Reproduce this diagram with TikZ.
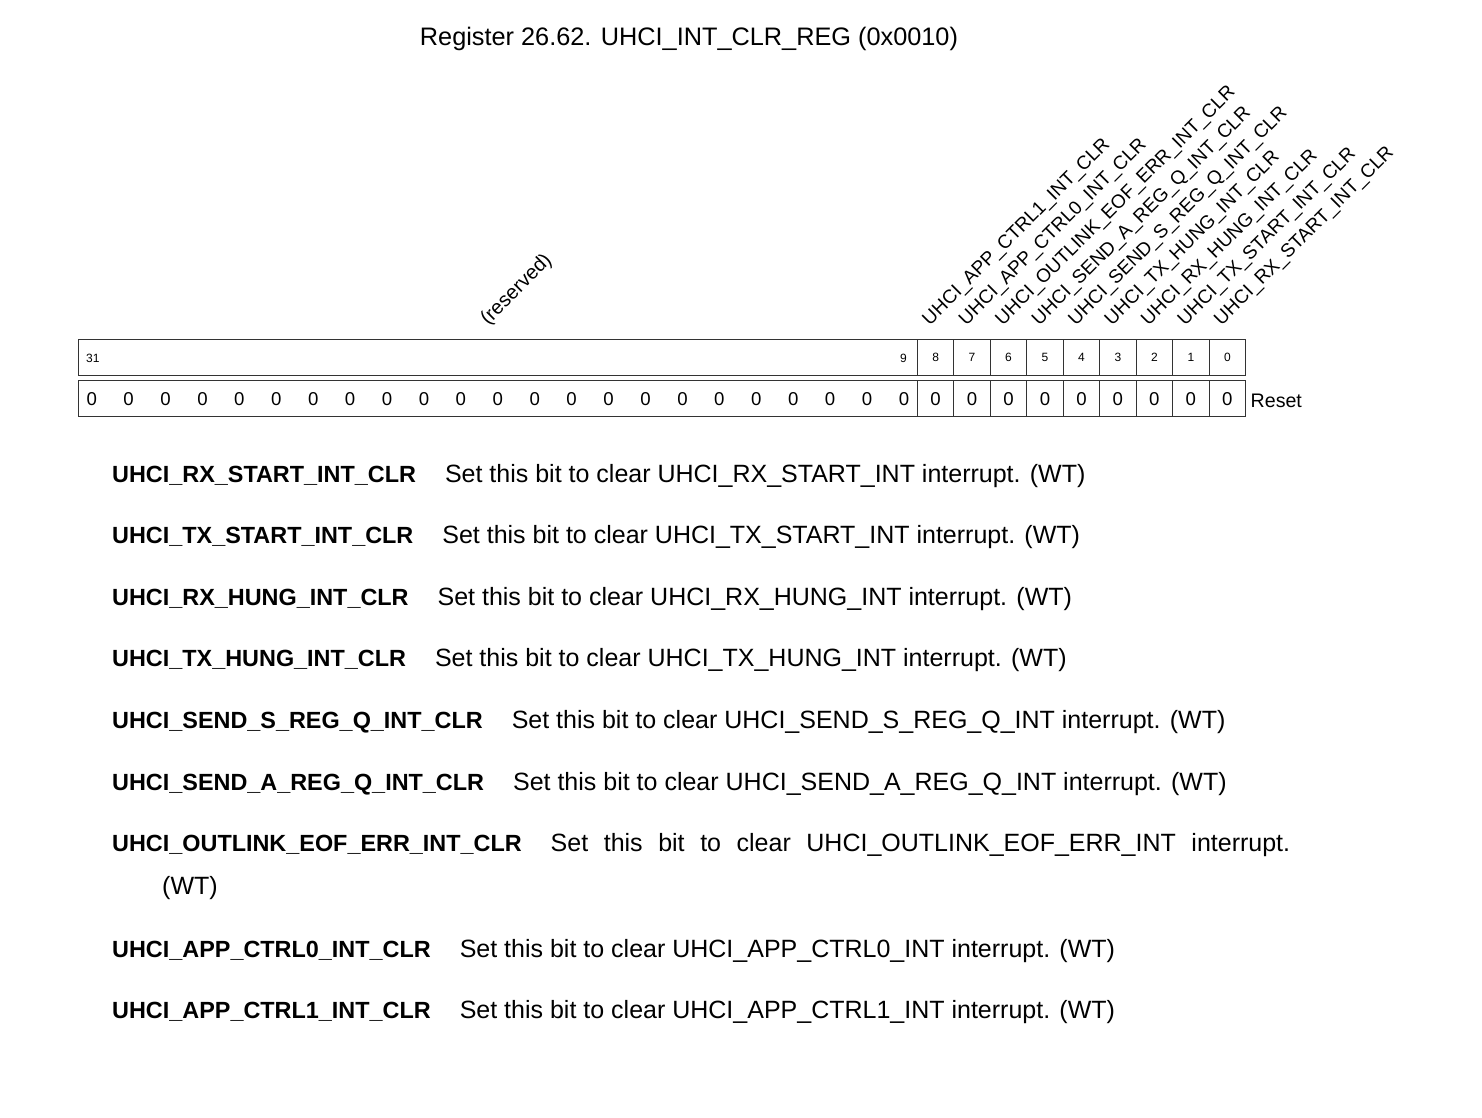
\documentclass[tikz,border=0pt]{standalone}
\usepackage{fontspec}
\setmainfont{Liberation Sans}
\usetikzlibrary{positioning}
\definecolor{regline}{HTML}{333333}
\newcommand\fieldname[1]{{\fontsize{23.4}{30}\selectfont\bfseries #1}}
\tikzset{cell/.style={draw=regline, line width=1.1pt, minimum width=36.48pt,
        minimum height=36.4pt, inner sep=0pt, font=\fontsize{12}{14}\selectfont},
    resetcell/.style={cell, minimum height=36pt, font=\fontsize{18.6}{22}\selectfont},
    fieldlabel/.style={rotate=45, anchor=south west, inner sep=0pt,
        font=\fontsize{19}{22}\selectfont},
    desc/.style={anchor=base west, inner sep=0pt, font=\fontsize{25}{30}\selectfont}
}

\begin{document}
\begin{tikzpicture}[x=1pt,y=-1pt]
      \useasboundingbox[fill=white] (0,0) rectangle (1482,1118);
      % title
      \node[anchor=base, inner sep=0pt, font=\fontsize{25.3}{30}\selectfont] (title) at (689,46)
          {Register 26.62. UHCI\_INT\_CLR\_REG (0x0010)};
      % bit numbers
      \node[cell, minimum width=839pt] (b31) at (497.8,357.5) {};
      \node[anchor=base west, inner sep=0pt, font=\fontsize{12}{14}\selectfont] (n31) at (86,362.5) {31};
      \node[anchor=base east, inner sep=0pt, font=\fontsize{12}{14}\selectfont] (n9) at (907,362.5) {9};
      \node[cell] (b8) at (935.6,357.5) {8};
      \node[cell] (b7) at (972.0,357.5) {7};
      \node[cell] (b6) at (1008.5,357.5) {6};
      \node[cell] (b5) at (1045.0,357.5) {5};
      \node[cell] (b4) at (1081.5,357.5) {4};
      \node[cell] (b3) at (1117.9,357.5) {3};
      \node[cell] (b2) at (1154.4,357.5) {2};
      \node[cell] (b1) at (1190.9,357.5) {1};
      \node[cell] (b0) at (1227.4,357.5) {0};
      % reset values
      \node[resetcell, minimum width=839pt] (r31) at (497.8,398.7) {};
      \foreach \i in {0,...,22}
        \node[inner sep=0pt, font=\fontsize{18.6}{22}\selectfont] (z\i) at (91.7+36.92*\i,398.7) {0};
      \node[resetcell] (r8) at (935.6,398.7) {0};
      \node[resetcell] (r7) at (972.0,398.7) {0};
      \node[resetcell] (r6) at (1008.5,398.7) {0};
      \node[resetcell] (r5) at (1045.0,398.7) {0};
      \node[resetcell] (r4) at (1081.5,398.7) {0};
      \node[resetcell] (r3) at (1117.9,398.7) {0};
      \node[resetcell] (r2) at (1154.4,398.7) {0};
      \node[resetcell] (r1) at (1190.9,398.7) {0};
      \node[resetcell] (r0) at (1227.4,398.7) {0};
      \node[anchor=base west, inner sep=0pt, font=\fontsize{19.6}{22}\selectfont] (reset) at (1250.5,407.5) {Reset};
      % field labels
      \node[fieldlabel, font=\fontsize{20}{22}\selectfont] (lres) at (491,329) {(reserved)};
      \node[fieldlabel] (l8) at (932.6,329) {UHCI\_APP\_CTRL1\_INT\_CLR};
      \node[fieldlabel] (l7) at (969.0,329) {UHCI\_APP\_CTRL0\_INT\_CLR};
      \node[fieldlabel] (l6) at (1005.5,329) {UHCI\_OUTLINK\_EOF\_ERR\_INT\_CLR};
      \node[fieldlabel] (l5) at (1042.0,329) {UHCI\_SEND\_A\_REG\_Q\_INT\_CLR};
      \node[fieldlabel] (l4) at (1078.5,329) {UHCI\_SEND\_S\_REG\_Q\_INT\_CLR};
      \node[fieldlabel] (l3) at (1114.9,329) {UHCI\_TX\_HUNG\_INT\_CLR};
      \node[fieldlabel] (l2) at (1151.4,329) {UHCI\_RX\_HUNG\_INT\_CLR};
      \node[fieldlabel] (l1) at (1187.9,329) {UHCI\_TX\_START\_INT\_CLR};
      \node[fieldlabel] (l0) at (1224.4,329) {UHCI\_RX\_START\_INT\_CLR};
      % descriptions
      \node[desc] (d0) at (112,482.5) {\fieldname{UHCI\_RX\_START\_INT\_CLR}\hspace{29pt}Set this bit to clear UHCI\_RX\_START\_INT interrupt. (WT)};
      \node[desc] (d1) at (112,543.5) {\fieldname{UHCI\_TX\_START\_INT\_CLR}\hspace{29pt}Set this bit to clear UHCI\_TX\_START\_INT interrupt. (WT)};
      \node[desc] (d2) at (112,605.5) {\fieldname{UHCI\_RX\_HUNG\_INT\_CLR}\hspace{29pt}Set this bit to clear UHCI\_RX\_HUNG\_INT interrupt. (WT)};
      \node[desc] (d3) at (112,666.5) {\fieldname{UHCI\_TX\_HUNG\_INT\_CLR}\hspace{29pt}Set this bit to clear UHCI\_TX\_HUNG\_INT interrupt. (WT)};
      \node[desc] (d4) at (112,728.5) {\fieldname{UHCI\_SEND\_S\_REG\_Q\_INT\_CLR}\hspace{29pt}Set this bit to clear UHCI\_SEND\_S\_REG\_Q\_INT interrupt. (WT)};
      \node[desc] (d5) at (112,790.5) {\fieldname{UHCI\_SEND\_A\_REG\_Q\_INT\_CLR}\hspace{29pt}Set this bit to clear UHCI\_SEND\_A\_REG\_Q\_INT interrupt. (WT)};
      \node[desc] (d6) at (112,851.5) {\makebox[1178pt][s]{\fieldname{UHCI\_OUTLINK\_EOF\_ERR\_INT\_CLR}\hspace{29pt}Set this bit to clear UHCI\_OUTLINK\_EOF\_ERR\_INT interrupt.}};
      \node[desc] (d6wt) at (162,894.5) {(WT)};
      \node[desc] (d7) at (112,957.5) {\fieldname{UHCI\_APP\_CTRL0\_INT\_CLR}\hspace{29pt}Set this bit to clear UHCI\_APP\_CTRL0\_INT interrupt. (WT)};
      \node[desc] (d8) at (112,1018.5) {\fieldname{UHCI\_APP\_CTRL1\_INT\_CLR}\hspace{29pt}Set this bit to clear UHCI\_APP\_CTRL1\_INT interrupt. (WT)};
\end{tikzpicture}
\end{document}
